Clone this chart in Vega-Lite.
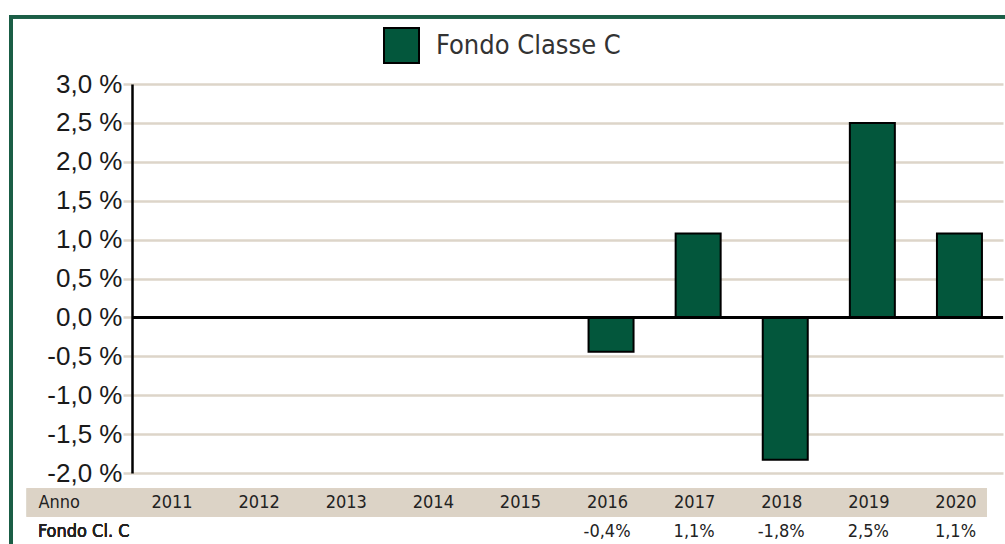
{
  "$schema": "https://vega.github.io/schema/vega-lite/v6.json",
  "width": 871,
  "height": 389,
  "autosize": {"type": "none"},
  "padding": {"left": 132, "top": 84, "right": 2, "bottom": 71},
  "background": "white",
  "config": {
    "view": {"stroke": null},
    "locale": {"number": {"decimal": ",", "thousands": ".", "grouping": [3], "currency": ["", "%"], "minus": "-"}}
  },
  "data": {
    "values": [
      {"anno": 2016, "v": -0.44, "serie": "Fondo Classe C"},
      {"anno": 2017, "v": 1.08, "serie": "Fondo Classe C"},
      {"anno": 2018, "v": -1.83, "serie": "Fondo Classe C"},
      {"anno": 2019, "v": 2.5, "serie": "Fondo Classe C"},
      {"anno": 2020, "v": 1.08, "serie": "Fondo Classe C"}
    ]
  },
  "resolve": {"axis": {"x": "independent", "y": "independent"}},
  "layer": [
    {
      "mark": {"type": "bar", "size": 45, "stroke": "black", "strokeWidth": 2},
      "encoding": {
        "x": {
          "field": "anno",
          "type": "quantitative",
          "scale": {"domain": [2010.5, 2020.5], "nice": false, "zero": false, "padding": 0},
          "axis": {
            "orient": "bottom",
            "zindex": 2,
            "values": [2011, 2012, 2013, 2014, 2015, 2016, 2017, 2018, 2019, 2020],
            "format": "d",
            "domain": false,
            "ticks": false,
            "grid": false,
            "labelPadding": 29,
            "labelBaseline": "middle",
            "labelFont": "DejaVu Sans Condensed, Roboto",
            "labelFontSize": 18,
            "labelColor": "#222222",
            "labelOffset": -4,
            "labelFlush": false,
            "labelOverlap": false,
            "labelBound": false,
            "title": "Anno",
            "titleX": -94,
            "titleY": 29,
            "titleAlign": "left",
            "titleBaseline": "middle",
            "titleFont": "DejaVu Sans Condensed, Roboto",
            "titleFontSize": 18,
            "titleFontWeight": "normal",
            "titleColor": "#222222"
          }
        },
        "y": {
          "field": "v",
          "type": "quantitative",
          "scale": {"domain": [-2, 3], "nice": false, "zero": false},
          "axis": {
            "orient": "left",
            "values": [-2, -1.5, -1, -0.5, 0, 0.5, 1, 1.5, 2, 2.5, 3],
            "labelExpr": "replace(replace(format(datum.value, '.1f'), '.', ','), '\u2212', '-') + ' %'",
            "labelFont": "Liberation Sans",
            "labelFontSize": 26,
            "labelColor": "#1a1a1a",
            "labelPadding": 1,
            "labelOverlap": false,
            "domainColor": "black",
            "domainWidth": 2.5,
            "tickColor": "#ddd5c9",
            "tickSize": 9,
            "tickWidth": 2.5,
            "grid": true,
            "gridColor": "#ddd5c9",
            "gridWidth": 2.5,
            "gridOpacity": 1,
            "title": null
          }
        },
        "color": {
          "field": "serie",
          "type": "nominal",
          "scale": {"range": ["#03573c"]},
          "legend": {
            "orient": "none",
            "legendX": 251,
            "legendY": -57,
            "title": null,
            "padding": 0,
            "symbolType": "square",
            "symbolSize": 1225,
            "symbolStrokeColor": "black",
            "symbolStrokeWidth": 2,
            "symbolOpacity": 1,
            "labelFont": "DejaVu Sans Condensed, Roboto",
            "labelFontSize": 27,
            "labelColor": "#333333",
            "labelOffset": 16,
            "labelLimit": 400
          }
        }
      }
    },
    {
      "mark": {"type": "rect", "fill": null, "stroke": "#1b5e46", "strokeWidth": 3.5},
      "encoding": {
        "x": {"datum": 2009.111, "type": "quantitative", "axis": null},
        "x2": {"datum": 2021},
        "y": {"datum": 3.865, "type": "quantitative", "axis": null},
        "y2": {"datum": -3.5}
      }
    },
    {
      "mark": {"type": "rect", "fill": "#dcd3c6"},
      "encoding": {
        "x": {"datum": 2009.291, "type": "quantitative", "axis": null},
        "x2": {"datum": 2020.313},
        "y": {"datum": -2.197, "type": "quantitative", "axis": null},
        "y2": {"datum": -2.562}
      }
    },
    {
      "mark": {"type": "rule", "color": "black", "strokeWidth": 2.5},
      "encoding": {"y": {"datum": 0, "type": "quantitative", "axis": null}}
    },
    {
      "mark": {"type": "text", "font": "DejaVu Sans Condensed, Roboto", "fontSize": 18, "color": "#222222", "dx": -4, "baseline": "middle", "align": "center"},
      "encoding": {
        "x": {"field": "anno", "type": "quantitative", "axis": null},
        "y": {"datum": -2.758, "type": "quantitative", "axis": null},
        "text": {"field": "v", "type": "quantitative", "format": "$.1f"}
      }
    },
    {
      "mark": {"type": "text", "font": "DejaVu Sans Condensed, Roboto", "fontSize": 18, "color": "#222222", "baseline": "middle", "align": "left", "text": "Fondo Cl. C"},
      "encoding": {
        "x": {"datum": 2009.42, "type": "quantitative", "axis": null},
        "y": {"datum": -2.758, "type": "quantitative", "axis": null}
      }
    }
  ]
}
